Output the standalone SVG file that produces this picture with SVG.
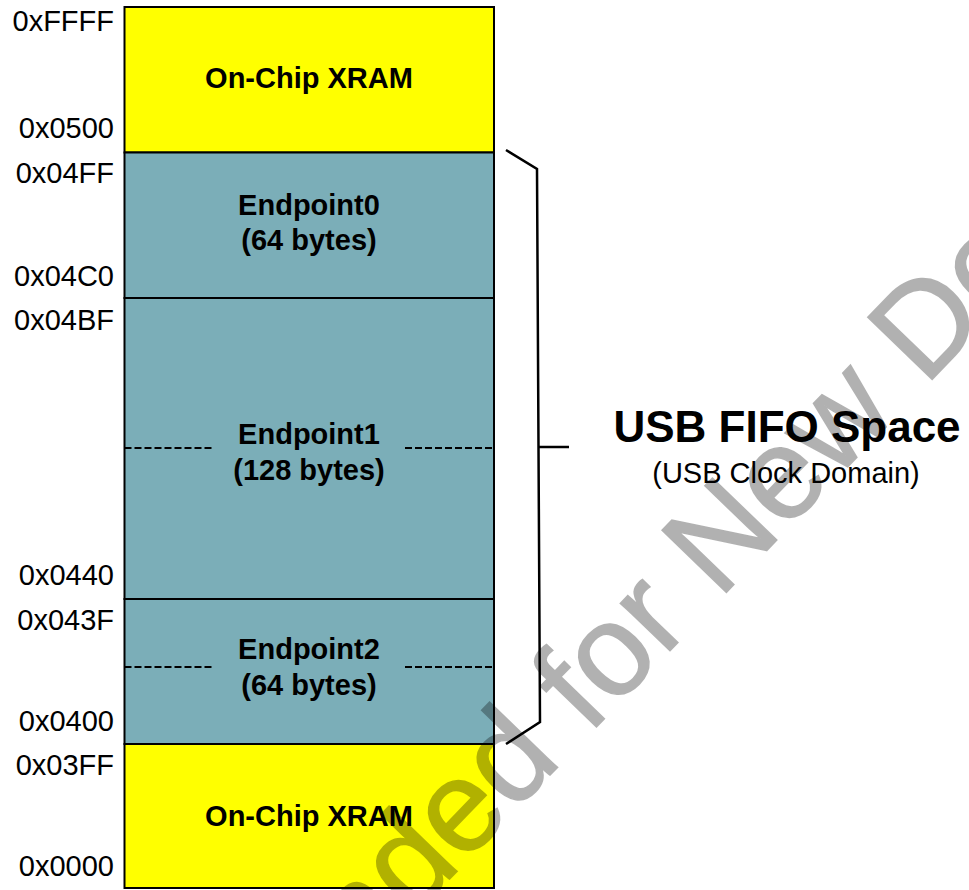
<svg xmlns="http://www.w3.org/2000/svg" width="969" height="890" viewBox="0 0 969 890">
<style>
.addr{font-family:"Liberation Sans",Arial,sans-serif;font-size:29px;fill:#000;text-anchor:end}
.lbl{font-family:"Liberation Sans",Arial,sans-serif;font-size:29px;font-weight:bold;fill:#000;text-anchor:middle}
.xram{fill:#FFFF00;stroke:#000;stroke-width:2}
.ep{fill:#7BAEB8;stroke:#000;stroke-width:2}
.dash{stroke:#000;stroke-width:2;stroke-dasharray:7 3;fill:none}
.brace{stroke:#000;stroke-width:2.5;fill:none;stroke-linejoin:miter}
.wm{font-family:"Liberation Sans",Arial,sans-serif;font-size:130px;fill:#000;stroke:#000;stroke-width:1.5}
</style>
<rect width="969" height="890" fill="#fff"/>
<g id="xram-high">
<rect class="xram" x="124.5" y="7" width="369.5" height="145.5"/>
<text class="lbl" x="309" y="88">On-Chip XRAM</text>
</g>
<g id="endpoint0">
<rect class="ep" x="124.5" y="152.5" width="369.5" height="145.5"/>
<text class="lbl" x="309" y="215">Endpoint0</text>
<text class="lbl" x="309" y="250">(64 bytes)</text>
</g>
<g id="endpoint1">
<rect class="ep" x="124.5" y="298" width="369.5" height="301"/>
<line class="dash" x1="124.5" y1="448" x2="214" y2="448"/>
<line class="dash" x1="405" y1="448" x2="494" y2="448"/>
<text class="lbl" x="309" y="444">Endpoint1</text>
<text class="lbl" x="309" y="480">(128 bytes)</text>
</g>
<g id="endpoint2">
<rect class="ep" x="124.5" y="599" width="369.5" height="145"/>
<line class="dash" x1="124.5" y1="667" x2="214" y2="667"/>
<line class="dash" x1="405" y1="667" x2="494" y2="667"/>
<text class="lbl" x="309" y="659">Endpoint2</text>
<text class="lbl" x="309" y="695">(64 bytes)</text>
</g>
<g id="xram-low">
<rect class="xram" x="124.5" y="744" width="369.5" height="144"/>
<text class="lbl" x="309" y="826">On-Chip XRAM</text>
</g>
<g id="addresses">
<text class="addr" x="114" y="31">0xFFFF</text>
<text class="addr" x="114" y="138">0x0500</text>
<text class="addr" x="114" y="183">0x04FF</text>
<text class="addr" x="114" y="286">0x04C0</text>
<text class="addr" x="114" y="330">0x04BF</text>
<text class="addr" x="114" y="585">0x0440</text>
<text class="addr" x="114" y="630">0x043F</text>
<text class="addr" x="114" y="731">0x0400</text>
<text class="addr" x="114" y="775">0x03FF</text>
<text class="addr" x="114" y="876">0x0000</text>
</g>
<g id="connectors">
<path class="brace" d="M506,150 L537,169 L540,722 L506,744"/>
<line class="brace" x1="539" y1="447" x2="569" y2="447"/>
</g>
<g id="usb-fifo-label">
<text x="787" y="442" font-family="Liberation Sans,Arial,sans-serif" font-size="44" font-weight="bold" text-anchor="middle">USB FIFO Space</text>
<text x="786" y="483" font-family="Liberation Sans,Arial,sans-serif" font-size="29" text-anchor="middle">(USB Clock Domain)</text>
</g>
<g id="watermark" opacity="0.3">
<text class="wm" transform="translate(719,600) rotate(-46)" x="-1344" y="0">Not Recommended for New Designs</text>
</g>
</svg>
